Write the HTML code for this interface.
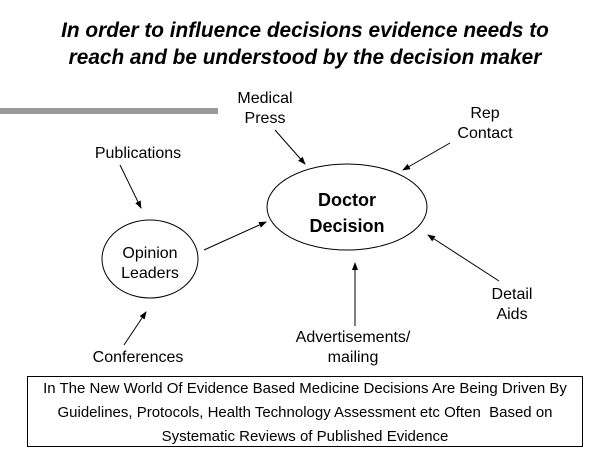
<!DOCTYPE html>
<html><head><style>
body{margin:0;background:#fff;width:600px;height:450px;overflow:hidden;position:relative;font-family:"Liberation Sans",Arial,sans-serif}
.t{position:absolute;text-align:center;color:#000;white-space:nowrap}
.h{font-style:italic;font-weight:bold;font-size:20.8px;line-height:27px;left:0;width:610px;top:17px}
.l{font-size:16px;line-height:20px}
.box{position:absolute;left:27px;top:376px;width:556px;height:71px;border:1px solid #000;font-size:15px;line-height:24px;text-align:center;padding-top:0px;box-sizing:border-box;white-space:nowrap}
</style></head><body>
<div class="t h">In order to influence decisions evidence needs to<br>reach and be understood by the decision maker</div>
<div style="position:absolute;left:0;top:108px;width:218px;height:6px;background:#9a9a9a"></div>
<svg width="600" height="450" style="position:absolute;left:0;top:0">
<defs><marker id="a" markerWidth="8" markerHeight="8" refX="7" refY="4" orient="auto" markerUnits="userSpaceOnUse"><path d="M0,1 L8,4 L0,7z" fill="#000"/></marker></defs>
<g fill="none" stroke="#000" stroke-width="1">
<ellipse cx="347" cy="207" rx="80" ry="43"/>
<ellipse cx="150" cy="259" rx="48" ry="39"/>
<g marker-end="url(#a)">
<line x1="120" y1="165" x2="141" y2="208"/>
<line x1="275" y1="130" x2="305" y2="164"/>
<line x1="450" y1="143" x2="403" y2="170"/>
<line x1="204" y1="250" x2="266" y2="222"/>
<line x1="355" y1="326" x2="355" y2="263"/>
<line x1="499" y1="281" x2="428" y2="235"/>
<line x1="124" y1="345" x2="146" y2="312"/>
</g></g></svg>
<div class="t l" style="left:225px;width:80px;top:89px">Medical<br>Press</div>
<div class="t l" style="left:445px;width:80px;top:104px">Rep<br>Contact</div>
<div class="t l" style="left:78px;width:120px;top:144px">Publications</div>
<div class="t" style="left:287px;width:120px;font-weight:bold;font-size:18px;line-height:26px;top:187px">Doctor<br>Decision</div>
<div class="t l" style="left:110px;width:80px;top:244px">Opinion<br>Leaders</div>
<div class="t l" style="left:472px;width:80px;top:285px">Detail<br>Aids</div>
<div class="t l" style="left:273px;width:160px;top:328px">Advertisements/<br>mailing</div>
<div class="t l" style="left:78px;width:120px;top:348px">Conferences</div>
<div class="box">In The New World Of Evidence Based Medicine Decisions Are Being Driven By<br>Guidelines, Protocols, Health Technology Assessment etc Often &nbsp;Based on<br>Systematic Reviews of Published Evidence</div>
</body></html>
